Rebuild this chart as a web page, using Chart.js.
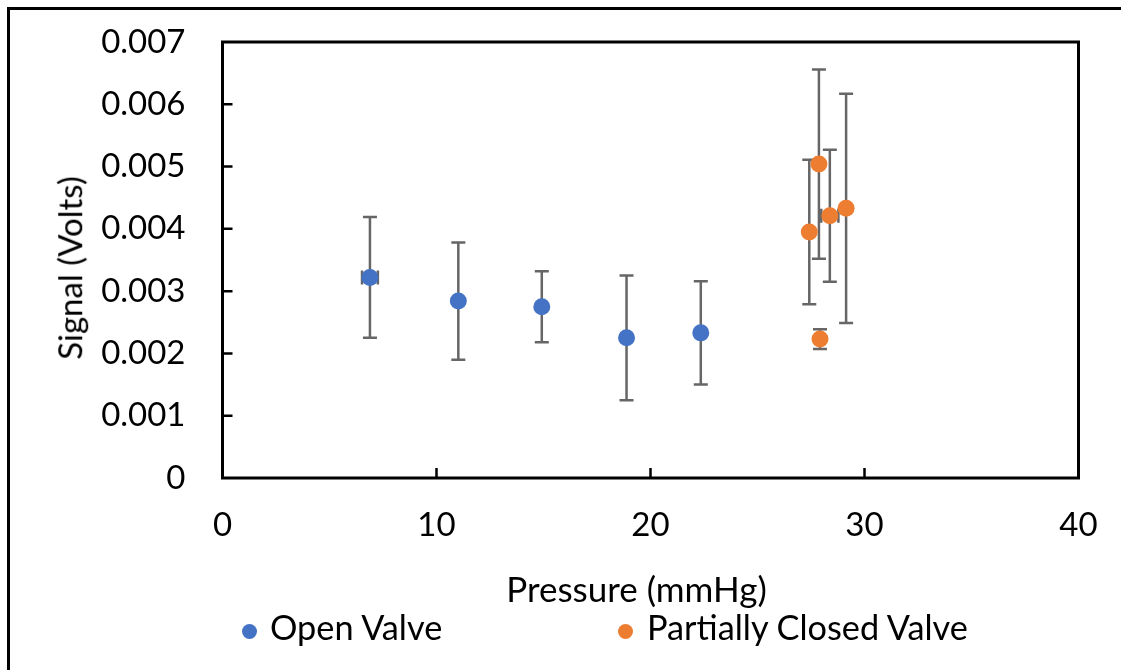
<!DOCTYPE html>
<html>
<head>
<meta charset="utf-8">
<script src="https://cdn.jsdelivr.net/npm/chart.js@4.4.1/dist/chart.umd.min.js"></script>
<style>
  html, body { margin: 0; padding: 0; background: #fff; overflow: hidden; }
  #wrap { position: relative; width: 1121px; height: 670px; overflow: hidden; }
  #frame { position: absolute; left: 7px; top: 7px; width: 1300px; height: 900px; border: 3px solid #000; box-sizing: border-box; }
  canvas { position: absolute; left: 0; top: 0; }
  .txt { position: absolute; font-family: Lato, "Open Sans", sans-serif; font-size: 35px; line-height: 1.2; color: #000; white-space: nowrap; }
  .dot { position: absolute; width: 15px; height: 15px; border-radius: 50%; }
</style>
</head>
<body>
<div id="wrap">
  <div id="frame"></div>
  <canvas id="c" width="1121" height="670"></canvas>
  <div id="xtitle" class="txt"></div>
  <div id="ytitle" class="txt"></div>
  <div id="legend"></div>
</div>
<script>
// ---- data ----
const seriesNames = ['Open Valve', 'Partially Closed Valve'];
const seriesColors = ['#4472C4', '#ED7D31'];

const openX    = [6.89, 11.02, 14.92, 18.88, 22.35];
const openY    = [0.00322, 0.00284, 0.00275, 0.00225, 0.00233];
const openErr  = [0.00097, 0.00094, 0.00057, 0.00100, 0.00083];
const openXErr = [0.37, 0, 0, 0, 0];

const closedX    = [27.42, 27.87, 27.92, 28.38, 29.14];
const closedY    = [0.00395, 0.00504, 0.00223, 0.00421, 0.00433];
const closedErr  = [0.00116, 0.00152, 0.00016, 0.00106, 0.00184];
const closedXErr = [0, 0, 0, 0.40, 0];

const xTickLabels = ['0', '10', '20', '30', '40'];
const yTickLabels = ['0', '0.001', '0.002', '0.003', '0.004', '0.005', '0.006', '0.007'];
const xTitle = 'Pressure (mmHg)';
const yTitle = 'Signal (Volts)';

// ---- build ----
function pts(xs, ys, ey, ex) {
  return xs.map((x, i) => ({ x: x, y: ys[i], ey: ey[i], ex: ex[i] }));
}

const FONT = 'Lato, "Open Sans", sans-serif';

const errorBars = {
  id: 'errorBars',
  beforeDatasetsDraw(chart) {
    const ctx = chart.ctx;
    const xs = chart.scales.x, ys = chart.scales.y;
    const cap = 7;
    ctx.save();
    ctx.strokeStyle = '#666666';
    ctx.lineWidth = 2.5;
    chart.data.datasets.forEach(ds => {
      ds.data.forEach(p => {
        const px = xs.getPixelForValue(p.x);
        if (p.ey) {
          const t = ys.getPixelForValue(p.y + p.ey);
          const b = ys.getPixelForValue(p.y - p.ey);
          ctx.beginPath();
          ctx.moveTo(px, t); ctx.lineTo(px, b);
          ctx.moveTo(px - cap, t); ctx.lineTo(px + cap, t);
          ctx.moveTo(px - cap, b); ctx.lineTo(px + cap, b);
          ctx.stroke();
        }
        if (p.ex) {
          const py = ys.getPixelForValue(p.y);
          const l = xs.getPixelForValue(p.x - p.ex);
          const r = xs.getPixelForValue(p.x + p.ex);
          ctx.beginPath();
          ctx.moveTo(l, py); ctx.lineTo(r, py);
          ctx.moveTo(l, py - cap); ctx.lineTo(l, py + cap);
          ctx.moveTo(r, py - cap); ctx.lineTo(r, py + cap);
          ctx.stroke();
        }
      });
    });
    ctx.restore();
  }
};

const frameAndTicks = {
  id: 'frameAndTicks',
  afterDraw(chart) {
    const ctx = chart.ctx;
    const a = chart.chartArea;
    const xs = chart.scales.x, ys = chart.scales.y;
    ctx.save();
    ctx.strokeStyle = '#000';
    ctx.lineWidth = 2.5;
    ctx.beginPath();
    xs.ticks.forEach(t => {
      const p = xs.getPixelForValue(t.value);
      if (p > a.left + 2 && p < a.right - 2) { ctx.moveTo(p, a.bottom); ctx.lineTo(p, a.bottom - 10); }
    });
    ys.ticks.forEach(t => {
      const p = ys.getPixelForValue(t.value);
      if (p > a.top + 2 && p < a.bottom - 2) { ctx.moveTo(a.left, p); ctx.lineTo(a.left + 10, p); }
    });
    ctx.stroke();
    ctx.lineWidth = 3;
    ctx.strokeRect(a.left, a.top, a.right - a.left, a.bottom - a.top);
    ctx.restore();
  }
};

function noOverflow(s) {
  s.paddingTop = 0; s.paddingBottom = 0; s.paddingLeft = 0; s.paddingRight = 0;
}

Chart.defaults.font.family = FONT;
Chart.defaults.color = '#000';

new Chart(document.getElementById('c'), {
  type: 'scatter',
  data: {
    datasets: [
      { label: seriesNames[0], data: pts(openX, openY, openErr, openXErr),
        backgroundColor: seriesColors[0], borderColor: seriesColors[0],
        pointRadius: 8.5, pointHoverRadius: 8.5, pointBorderWidth: 0 },
      { label: seriesNames[1], data: pts(closedX, closedY, closedErr, closedXErr),
        backgroundColor: seriesColors[1], borderColor: seriesColors[1],
        pointRadius: 8.5, pointHoverRadius: 8.5, pointBorderWidth: 0 }
    ]
  },
  options: {
    responsive: false,
    animation: false,
    devicePixelRatio: 1,
    layout: { padding: { left: 0, top: 42, right: 42.5, bottom: 0 } },
    plugins: { legend: { display: false }, tooltip: { enabled: false } },
    scales: {
      x: {
        type: 'linear', min: 0, max: 40,
        grid: { display: false, drawTicks: false },
        border: { display: false },
        ticks: { stepSize: 10, padding: 27.4, font: { size: 33 }, color: '#000',
                 callback: (v) => xTickLabels[Math.round(v / 10)] },
        afterFit(s) { s.height = 192; noOverflow(s); }
      },
      y: {
        type: 'linear', min: 0, max: 0.007,
        grid: { display: false, drawTicks: false },
        border: { display: false },
        ticks: { stepSize: 0.001, padding: 37, font: { size: 33 }, color: '#000',
                 callback: (v) => yTickLabels[Math.round(v * 1000)] },
        afterFit(s) { s.width = 222.5; noOverflow(s); }
      }
    }
  },
  plugins: [errorBars, frameAndTicks]
});

// axis titles and legend as HTML text
const xt = document.getElementById('xtitle');
xt.textContent = xTitle;
xt.style.left = '636.5px';
xt.style.top = '566.5px';
xt.style.transform = 'translateX(-50%)';

const yt = document.getElementById('ytitle');
yt.textContent = yTitle;
yt.style.fontSize = '33px';
yt.style.left = '70px';
yt.style.top = '268px';
yt.style.transform = 'translate(-50%, -50%) rotate(-90deg)';

const legendPos = [{ dot: 249, text: 270 }, { dot: 625, text: 647 }];
const lg = document.getElementById('legend');
seriesNames.forEach((name, i) => {
  const d = document.createElement('div');
  d.className = 'dot';
  d.style.background = seriesColors[i];
  d.style.left = (legendPos[i].dot - 7.5) + 'px';
  d.style.top = (631.7 - 7.5) + 'px';
  lg.appendChild(d);
  const t = document.createElement('div');
  t.className = 'txt';
  t.style.fontSize = '34.3px';
  t.textContent = name;
  t.style.left = legendPos[i].text + 'px';
  t.style.top = '606px';
  lg.appendChild(t);
});
</script>
</body>
</html>
